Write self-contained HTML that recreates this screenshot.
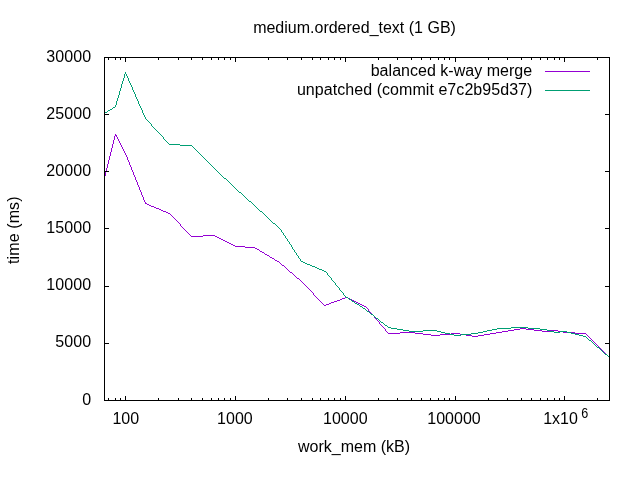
<!DOCTYPE html>
<html><head><meta charset="utf-8"><title>medium.ordered_text (1 GB)</title>
<style>html,body{margin:0;padding:0;background:#fff}svg{display:block}text{font-family:"Liberation Sans",Arial,sans-serif;font-size:16px;fill:#000}.n{letter-spacing:0.1px}</style></head><body>
<svg width="640" height="480" viewBox="0 0 640 480">
<rect width="640" height="480" fill="#fff"/>
<g fill="none" stroke-width="1" shape-rendering="crispEdges">
<path stroke="#9400d3" d="M115,134.5h1M115,135.5h2M114,136.5h1M116,136.5h1M114,137.5h1M117,137.5h1M114,138.5h1M117,138.5h1M114,139.5h1M118,139.5h1M113,140.5h1M118,140.5h1M113,141.5h1M119,141.5h1M113,142.5h1M119,142.5h1M113,143.5h1M120,143.5h1M112,144.5h1M120,144.5h1M112,145.5h1M121,145.5h1M112,146.5h1M121,146.5h1M112,147.5h1M122,147.5h1M111,148.5h1M122,148.5h1M111,149.5h1M123,149.5h1M111,150.5h1M123,150.5h1M111,151.5h1M124,151.5h1M110,152.5h1M124,152.5h1M110,153.5h1M125,153.5h1M110,154.5h1M125,154.5h1M110,155.5h1M126,155.5h1M109,156.5h1M126,156.5h1M109,157.5h1M127,157.5h1M109,158.5h1M127,158.5h1M109,159.5h1M127,159.5h1M108,160.5h1M128,160.5h1M108,161.5h1M128,161.5h1M108,162.5h1M129,162.5h1M108,163.5h1M129,163.5h1M107,164.5h1M129,164.5h1M107,165.5h1M130,165.5h1M107,166.5h1M130,166.5h1M107,167.5h1M131,167.5h1M106,168.5h1M131,168.5h1M106,169.5h1M131,169.5h1M106,170.5h1M132,170.5h1M106,171.5h1M132,171.5h1M105,172.5h1M133,172.5h1M105,173.5h1M133,173.5h1M105,174.5h1M133,174.5h1M105,175.5h1M134,175.5h1M104,176.5h1M134,176.5h1M104,177.5h1M135,177.5h1M135,178.5h1M135,179.5h1M136,180.5h1M136,181.5h1M137,182.5h1M137,183.5h1M137,184.5h1M138,185.5h1M138,186.5h1M139,187.5h1M139,188.5h1M139,189.5h1M140,190.5h1M140,191.5h1M141,192.5h1M141,193.5h1M141,194.5h1M142,195.5h1M142,196.5h1M143,197.5h1M143,198.5h1M143,199.5h1M144,200.5h1M144,201.5h1M145,202.5h1M145,203.5h2M147,204.5h2M149,205.5h2M151,206.5h3M154,207.5h2M156,208.5h3M159,209.5h2M161,210.5h2M163,211.5h3M166,212.5h2M168,213.5h2M170,214.5h1M171,215.5h1M172,216.5h1M173,217.5h1M174,218.5h1M175,219.5h1M176,220.5h1M177,221.5h1M178,222.5h1M179,223.5h1M180,224.5h1M180,225.5h1M181,226.5h1M182,227.5h1M183,228.5h1M184,229.5h1M185,230.5h1M186,231.5h1M187,232.5h1M188,233.5h1M189,234.5h1M190,235.5h1M203,235.5h12M191,236.5h12M215,236.5h2M217,237.5h2M219,238.5h2M221,239.5h2M223,240.5h2M225,241.5h2M227,242.5h2M229,243.5h2M231,244.5h2M233,245.5h2M235,246.5h10M245,247.5h10M255,248.5h2M257,249.5h2M259,250.5h1M260,251.5h2M262,252.5h2M264,253.5h1M265,254.5h2M267,255.5h2M269,256.5h1M270,257.5h2M272,258.5h2M274,259.5h1M275,260.5h2M277,261.5h2M279,262.5h1M280,263.5h1M281,264.5h1M282,265.5h2M284,266.5h1M285,267.5h1M286,268.5h1M287,269.5h1M288,270.5h1M289,271.5h1M290,272.5h2M292,273.5h1M293,274.5h1M294,275.5h1M295,276.5h1M296,277.5h1M297,278.5h2M299,279.5h1M300,280.5h1M301,281.5h1M302,282.5h1M303,283.5h1M304,284.5h1M305,285.5h1M306,286.5h1M307,287.5h1M308,288.5h1M309,289.5h1M310,290.5h1M311,291.5h1M312,292.5h1M313,293.5h1M313,294.5h1M314,295.5h1M315,296.5h1M316,297.5h1M345,297.5h3M317,298.5h1M342,298.5h3M348,298.5h2M318,299.5h1M340,299.5h2M350,299.5h2M319,300.5h1M337,300.5h3M352,300.5h2M320,301.5h1M334,301.5h3M354,301.5h2M321,302.5h1M331,302.5h3M356,302.5h2M322,303.5h1M329,303.5h2M358,303.5h2M323,304.5h1M326,304.5h3M360,304.5h2M324,305.5h2M362,305.5h2M364,306.5h2M366,307.5h1M367,308.5h1M368,309.5h1M368,310.5h1M369,311.5h1M370,312.5h1M371,313.5h1M372,314.5h1M373,315.5h1M374,316.5h1M374,317.5h1M375,318.5h1M376,319.5h1M377,320.5h1M378,321.5h1M379,322.5h1M379,323.5h1M380,324.5h1M381,325.5h1M382,326.5h1M383,327.5h1M384,328.5h1M520,328.5h6M385,329.5h1M514,329.5h6M526,329.5h8M385,330.5h1M508,330.5h6M534,330.5h8M550,330.5h8M386,331.5h1M502,331.5h6M542,331.5h8M558,331.5h5M387,332.5h1M400,332.5h15M496,332.5h6M563,332.5h12M388,333.5h12M415,333.5h8M451,333.5h9M490,333.5h6M575,333.5h11M423,334.5h8M440,334.5h11M460,334.5h6M484,334.5h6M586,334.5h1M431,335.5h9M466,335.5h6M478,335.5h6M587,335.5h1M472,336.5h6M588,336.5h1M589,337.5h1M590,338.5h1M591,339.5h1M592,340.5h1M593,341.5h1M594,342.5h1M595,343.5h1M596,344.5h1M597,345.5h1M598,346.5h1M599,347.5h1M600,348.5h1M601,349.5h1M602,350.5h1M603,351.5h1M604,352.5h1M605,353.5h1M606,354.5h1M607,355.5h1M608,356.5h1M609,357.5h1M545,71.5h45"/>
<path stroke="#009e73" d="M125,72.5h1M125,73.5h1M124,74.5h1M126,74.5h1M124,75.5h1M126,75.5h1M124,76.5h1M127,76.5h1M124,77.5h1M127,77.5h1M123,78.5h1M128,78.5h1M123,79.5h1M128,79.5h1M123,80.5h1M128,80.5h1M122,81.5h1M129,81.5h1M122,82.5h1M129,82.5h1M122,83.5h1M130,83.5h1M121,84.5h1M130,84.5h1M121,85.5h1M131,85.5h1M121,86.5h1M131,86.5h1M121,87.5h1M132,87.5h1M120,88.5h1M132,88.5h1M120,89.5h1M132,89.5h1M120,90.5h1M133,90.5h1M119,91.5h1M133,91.5h1M119,92.5h1M134,92.5h1M119,93.5h1M134,93.5h1M119,94.5h1M135,94.5h1M118,95.5h1M135,95.5h1M118,96.5h1M135,96.5h1M118,97.5h1M136,97.5h1M117,98.5h1M136,98.5h1M117,99.5h1M137,99.5h1M117,100.5h1M137,100.5h1M116,101.5h1M138,101.5h1M116,102.5h1M138,102.5h1M116,103.5h1M138,103.5h1M116,104.5h1M139,104.5h1M115,105.5h1M139,105.5h1M115,106.5h1M140,106.5h1M113,107.5h2M140,107.5h1M112,108.5h1M141,108.5h1M110,109.5h2M141,109.5h1M108,110.5h2M142,110.5h1M107,111.5h1M142,111.5h1M105,112.5h2M142,112.5h1M104,113.5h1M143,113.5h1M143,114.5h1M144,115.5h1M144,116.5h1M145,117.5h1M145,118.5h1M146,119.5h1M147,120.5h1M148,121.5h1M149,122.5h1M150,123.5h1M151,124.5h1M151,125.5h1M152,126.5h1M153,127.5h1M154,128.5h1M155,129.5h1M156,130.5h1M157,131.5h1M158,132.5h1M159,133.5h1M160,134.5h1M161,135.5h1M162,136.5h1M163,137.5h1M163,138.5h1M164,139.5h1M165,140.5h1M166,141.5h1M167,142.5h1M168,143.5h1M169,144.5h11M180,145.5h12M192,146.5h1M193,147.5h1M194,148.5h1M195,149.5h1M196,150.5h1M197,151.5h1M198,152.5h1M199,153.5h1M200,154.5h1M201,155.5h1M202,156.5h1M203,157.5h1M204,158.5h1M205,159.5h1M206,160.5h1M207,161.5h1M208,162.5h1M209,163.5h1M210,164.5h1M211,165.5h1M212,166.5h1M213,167.5h1M214,168.5h1M215,169.5h1M216,170.5h1M217,171.5h1M218,172.5h1M219,173.5h1M220,174.5h1M221,175.5h1M222,176.5h1M223,177.5h1M224,178.5h2M226,179.5h1M227,180.5h1M228,181.5h1M229,182.5h1M230,183.5h1M231,184.5h1M232,185.5h1M233,186.5h1M234,187.5h1M235,188.5h1M236,189.5h1M237,190.5h1M238,191.5h1M239,192.5h2M241,193.5h1M242,194.5h1M243,195.5h1M244,196.5h1M245,197.5h1M246,198.5h1M247,199.5h1M248,200.5h1M249,201.5h2M251,202.5h1M252,203.5h1M253,204.5h1M254,205.5h1M255,206.5h1M256,207.5h1M257,208.5h1M258,209.5h1M259,210.5h1M260,211.5h2M262,212.5h1M263,213.5h1M264,214.5h1M265,215.5h1M266,216.5h1M267,217.5h1M268,218.5h1M269,219.5h1M270,220.5h1M271,221.5h1M272,222.5h1M273,223.5h2M275,224.5h1M276,225.5h1M277,226.5h1M278,227.5h1M279,228.5h1M280,229.5h1M281,230.5h1M281,231.5h1M282,232.5h1M283,233.5h1M283,234.5h1M284,235.5h1M285,236.5h1M285,237.5h1M286,238.5h1M287,239.5h1M287,240.5h1M288,241.5h1M289,242.5h1M289,243.5h1M290,244.5h1M291,245.5h1M291,246.5h1M292,247.5h1M292,248.5h1M293,249.5h1M294,250.5h1M294,251.5h1M295,252.5h1M296,253.5h1M296,254.5h1M297,255.5h1M298,256.5h1M298,257.5h1M299,258.5h1M300,259.5h1M300,260.5h1M301,261.5h2M303,262.5h2M305,263.5h2M307,264.5h3M310,265.5h2M312,266.5h3M315,267.5h2M317,268.5h2M319,269.5h3M322,270.5h2M324,271.5h2M326,272.5h1M327,273.5h1M327,274.5h1M328,275.5h1M329,276.5h1M330,277.5h1M331,278.5h1M331,279.5h1M332,280.5h1M333,281.5h1M334,282.5h1M335,283.5h1M335,284.5h1M336,285.5h1M337,286.5h1M338,287.5h1M339,288.5h1M339,289.5h1M340,290.5h1M341,291.5h1M342,292.5h1M343,293.5h1M343,294.5h1M344,295.5h1M345,296.5h1M346,297.5h2M348,298.5h1M349,299.5h2M351,300.5h1M352,301.5h2M354,302.5h1M355,303.5h2M357,304.5h2M359,305.5h1M360,306.5h2M362,307.5h1M363,308.5h2M365,309.5h1M366,310.5h1M367,311.5h2M369,312.5h1M370,313.5h1M371,314.5h2M373,315.5h1M374,316.5h1M375,317.5h1M376,318.5h2M378,319.5h1M379,320.5h1M380,321.5h1M381,322.5h2M383,323.5h1M384,324.5h1M385,325.5h2M387,326.5h1M388,327.5h3M511,327.5h17M391,328.5h6M497,328.5h14M528,328.5h12M397,329.5h6M492,329.5h5M540,329.5h7M403,330.5h6M423,330.5h14M487,330.5h5M547,330.5h3M409,331.5h14M437,331.5h4M483,331.5h4M550,331.5h4M560,331.5h7M441,332.5h4M478,332.5h5M554,332.5h6M567,332.5h4M445,333.5h5M471,333.5h7M571,333.5h4M450,334.5h4M461,334.5h10M575,334.5h4M454,335.5h7M579,335.5h4M583,336.5h3M586,337.5h1M587,338.5h1M588,339.5h1M589,340.5h2M591,341.5h1M592,342.5h1M593,343.5h1M594,344.5h1M595,345.5h1M596,346.5h1M597,347.5h2M599,348.5h1M600,349.5h1M601,350.5h1M602,351.5h1M603,352.5h1M604,353.5h1M605,354.5h2M607,355.5h1M608,356.5h1M609,357.5h1M545,90.5h45"/>
<rect stroke="#000" x="104.5" y="57.5" width="505" height="343"/>
<path stroke="#000" d="M104,400.5h5M610,400.5h-5M104,343.5h5M610,343.5h-5M104,286.5h5M610,286.5h-5M104,228.5h5M610,228.5h-5M104,171.5h5M610,171.5h-5M104,114.5h5M610,114.5h-5M104,57.5h5M610,57.5h-5M108.5,401v-3M108.5,57v3M115.5,401v-3M115.5,57v3M120.5,401v-3M120.5,57v3M125.5,401v-5M125.5,57v5M158.5,401v-3M158.5,57v3M178.5,401v-3M178.5,57v3M191.5,401v-3M191.5,57v3M202.5,401v-3M202.5,57v3M211.5,401v-3M211.5,57v3M218.5,401v-3M218.5,57v3M224.5,401v-3M224.5,57v3M230.5,401v-3M230.5,57v3M235.5,401v-5M235.5,57v5M268.5,401v-3M268.5,57v3M287.5,401v-3M287.5,57v3M301.5,401v-3M301.5,57v3M312.5,401v-3M312.5,57v3M320.5,401v-3M320.5,57v3M328.5,401v-3M328.5,57v3M334.5,401v-3M334.5,57v3M340.5,401v-3M340.5,57v3M345.5,401v-5M345.5,57v5M378.5,401v-3M378.5,57v3M397.5,401v-3M397.5,57v3M411.5,401v-3M411.5,57v3M421.5,401v-3M421.5,57v3M430.5,401v-3M430.5,57v3M438.5,401v-3M438.5,57v3M444.5,401v-3M444.5,57v3M449.5,401v-3M449.5,57v3M455.5,401v-5M455.5,57v5M488.5,401v-3M488.5,57v3M507.5,401v-3M507.5,57v3M521.5,401v-3M521.5,57v3M531.5,401v-3M531.5,57v3M540.5,401v-3M540.5,57v3M547.5,401v-3M547.5,57v3M554.5,401v-3M554.5,57v3M559.5,401v-3M559.5,57v3M564.5,401v-5M564.5,57v5M597.5,401v-3M597.5,57v3"/>
</g>
<text class="n" x="91.2" y="404.5" text-anchor="end">0</text>
<text class="n" x="91.2" y="347.3" text-anchor="end">5000</text>
<text class="n" x="91.2" y="290.2" text-anchor="end">10000</text>
<text class="n" x="91.2" y="233.0" text-anchor="end">15000</text>
<text class="n" x="91.2" y="175.8" text-anchor="end">20000</text>
<text class="n" x="91.2" y="118.7" text-anchor="end">25000</text>
<text class="n" x="91.2" y="61.5" text-anchor="end">30000</text>
<text x="125.8" y="423.5" text-anchor="middle">100</text>
<text x="234.9" y="423.5" text-anchor="middle">1000</text>
<text x="345.3" y="423.5" text-anchor="middle">10000</text>
<text x="454.0" y="423.5" text-anchor="middle">100000</text>
<text x="543.2" y="423.5">1x10</text><text transform="translate(581.3,418) scale(0.9,1)" style="font-size:14px">6</text>
<text x="354.5" y="32.7" text-anchor="middle">medium.ordered_text (1 GB)</text>
<text x="354" y="451.8" text-anchor="middle">work_mem (kB)</text>
<text transform="translate(18.8,264) rotate(-90)" textLength="67.5">time (ms)</text>
<text x="370.7" y="76" textLength="161.4">balanced k-way merge</text>
<text x="296.9" y="95" textLength="235.5">unpatched (commit e7c2b95d37)</text>
</svg></body></html>
